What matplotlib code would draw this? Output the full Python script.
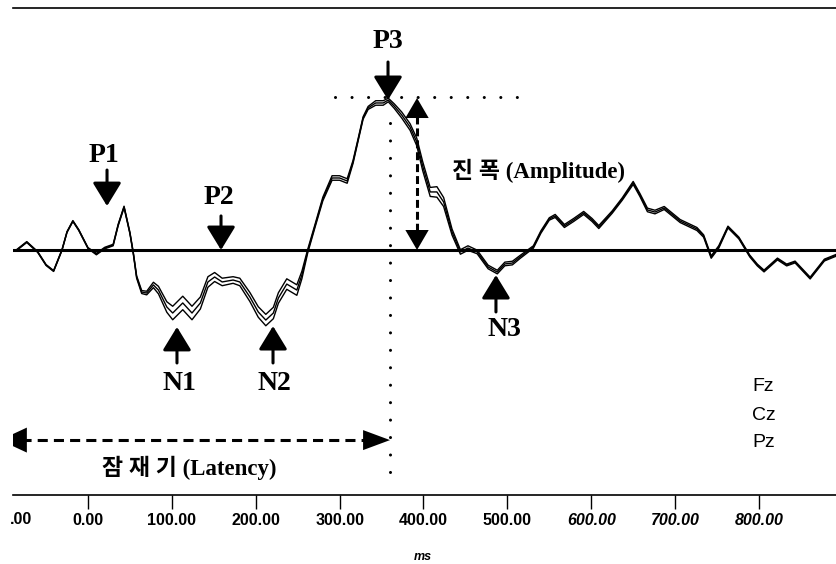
import matplotlib
matplotlib.use("Agg")
import matplotlib.pyplot as plt

# tempo (ms) e amplitude (uV) dos tres canais
tempo = [-85, -73, -60, -50, -41, -31, -25, -18, -11, 0,
         10, 20, 30, 36, 43, 50, 54, 58, 64, 70,
         78, 84, 94, 101, 113, 124, 134, 143, 151, 160,
         173, 181, 193, 203, 212, 221, 227, 237, 249, 255,
         262, 271, 280, 291, 300, 309, 316, 322, 328, 334,
         343, 352, 358, 365, 374, 384, 392, 399, 408, 416,
         424, 434, 444, 453, 464, 477, 488, 497, 506, 515,
         531, 540, 550, 557, 568, 579, 591, 601, 609, 625,
         637, 650, 658, 667, 676, 687, 706, 726, 734, 743,
         752, 763, 776, 789, 798, 806, 822, 833, 843, 861,
         878, 893]

fz = [0.03, 0.56, -0.10, -0.97, -1.37, 0.03, 1.23, 1.96, 1.36, 0.16,
      -0.22, 0.18, 0.38, 1.72, 2.92, 1.18, -0.15, -1.72, -2.70, -2.75,
      -2.15, -2.42, -3.45, -3.75, -3.08, -3.75, -3.13, -1.78, -1.50, -1.88,
      -1.78, -1.88, -2.83, -3.78, -4.29, -3.82, -2.85, -1.92, -2.32, -1.42,
      0.05, 1.77, 3.52, 4.95, 4.95, 4.75, 5.97, 7.41, 8.88, 9.57,
      9.95, 9.95, 10.12, 9.75, 9.20, 8.42, 7.45, 5.90, 4.17, 4.22,
      3.50, 1.40, 0.02, 0.28, -0.01, -1.01, -1.35, -0.81, -0.75, -0.37,
      0.28, 1.28, 2.15, 2.37, 1.70, 2.10, 2.57, 2.10, 1.63, 2.61,
      3.48, 4.57, 3.77, 2.79, 2.65, 2.90, 2.03, 1.50, 1.01, -0.39,
      0.28, 1.59, 0.86, -0.34, -0.94, -1.34, -0.54, -0.94, -0.74, -1.81,
      -0.61, -0.27]

cz = [0.00, 0.53, -0.13, -1.00, -1.40, 0.00, 1.20, 1.93, 1.33, 0.13,
      -0.27, 0.13, 0.33, 1.67, 2.87, 1.13, -0.20, -1.80, -2.80, -2.87,
      -2.33, -2.67, -3.80, -4.20, -3.53, -4.20, -3.53, -2.13, -1.80, -2.13,
      -2.00, -2.13, -3.13, -4.13, -4.67, -4.20, -3.20, -2.27, -2.67, -1.67,
      -0.07, 1.67, 3.40, 4.80, 4.80, 4.60, 5.87, 7.33, 8.80, 9.47,
      9.80, 9.80, 10.00, 9.60, 9.00, 8.20, 7.20, 5.60, 3.87, 3.87,
      3.20, 1.20, -0.13, 0.13, -0.13, -1.13, -1.47, -0.93, -0.87, -0.47,
      0.20, 1.20, 2.07, 2.27, 1.60, 2.00, 2.47, 2.00, 1.53, 2.53,
      3.40, 4.47, 3.67, 2.67, 2.53, 2.80, 1.93, 1.40, 0.93, -0.47,
      0.20, 1.53, 0.80, -0.40, -1.00, -1.40, -0.60, -1.00, -0.80, -1.87,
      -0.67, -0.33]

pz = [-0.03, 0.50, -0.16, -1.03, -1.43, -0.03, 1.17, 1.90, 1.30, 0.10,
      -0.32, 0.08, 0.28, 1.62, 2.82, 1.08, -0.25, -1.88, -2.90, -2.99,
      -2.51, -2.92, -4.15, -4.65, -3.98, -4.65, -3.93, -2.48, -2.10, -2.38,
      -2.22, -2.38, -3.43, -4.48, -5.05, -4.58, -3.55, -2.62, -3.02, -1.92,
      -0.19, 1.57, 3.28, 4.65, 4.65, 4.45, 5.77, 7.25, 8.72, 9.37,
      9.65, 9.65, 9.88, 9.45, 8.80, 7.98, 6.95, 5.30, 3.57, 3.52,
      2.90, 1.00, -0.28, -0.02, -0.25, -1.25, -1.59, -1.05, -0.99, -0.57,
      0.12, 1.12, 1.99, 2.17, 1.50, 1.90, 2.37, 1.90, 1.43, 2.45,
      3.32, 4.37, 3.57, 2.55, 2.41, 2.70, 1.83, 1.30, 0.85, -0.55,
      0.12, 1.47, 0.74, -0.46, -1.06, -1.46, -0.66, -1.06, -0.86, -1.93,
      -0.73, -0.39]

canais = ["Fz", "Cz", "Pz"]
marcas_x = [0, 100, 200, 300, 400, 500, 600, 700, 800]

SERIF = ["Liberation Serif", "Noto Sans CJK KR"]
SANS = "Liberation Sans"

fig = plt.figure(figsize=(8.37, 5.64), dpi=100)
ax = fig.add_axes([13 / 837, 1 - 495 / 564, 1 - 13 / 837, 487 / 564])
ax.set_xlim(-89.4, 893)
ax.set_ylim(-16.33, 16.13)

# linha de base
ax.axhline(0, color="black", lw=2.2, zorder=1)

# ondas
for serie in (fz, cz, pz):
    ax.plot(tempo, serie, color="black", lw=1.0, solid_joinstyle="round", zorder=2)

# eixos
for lado in ("left", "right"):
    ax.spines[lado].set_visible(False)
ax.spines["top"].set_linewidth(1.2)
ax.spines["bottom"].set_linewidth(1.2)
ax.set_yticks([])
ax.set_xticks(marcas_x)
ax.set_xticklabels([f"{m:.2f}" for m in marcas_x], fontweight="bold", family=SANS)
ax.tick_params(axis="x", direction="out", length=10, width=1.0, pad=3, labelsize=11.5)
for rotulo, m in zip(ax.get_xticklabels(), marcas_x):
    if m >= 600:
        rotulo.set_style("italic")

fig.text(32 / 837, 1 - 519 / 564, ".00", ha="right", va="center",
         fontsize=11.5, fontweight="bold", family=SANS)
fig.text(423 / 837, 1 - 557 / 564, "ms", ha="center", va="center",
         fontsize=9, fontweight="bold", style="italic", family=SANS)


def seta(x0, y0, x1, y1, comp=0.72, larg=0.44, lw=2.2, escala=20):
    est = f"-|>,head_length={comp},head_width={larg}"
    return ax.annotate("", xy=(x1, y1), xytext=(x0, y0), annotation_clip=False,
                       arrowprops=dict(arrowstyle=est, mutation_scale=escala, lw=lw,
                                       color="black", shrinkA=0, shrinkB=0))


# picos
rot = dict(fontsize=20, fontweight="bold", family=SERIF, ha="center", va="center")
seta(22.7, 5.33, 22.7, 2.93)
ax.text(19.1, 6.33, "P1", **rot)
seta(158.6, 2.27, 158.6, 0.0)
ax.text(156.2, 3.53, "P2", **rot)
seta(357.7, 12.53, 357.7, 10.0)
ax.text(357.7, 13.87, "P3", **rot)
seta(106.1, -7.53, 106.1, -5.13)
ax.text(108.5, -8.93, "N1", **rot)
seta(220.6, -7.53, 220.6, -5.07)
ax.text(221.8, -8.93, "N2", **rot)
seta(486.4, -4.13, 486.4, -1.67)
ax.text(496.0, -5.33, "N3", **rot)

# linhas pontilhadas
ax.plot([294.5, 524.6], [10.2, 10.2], color="black", lw=2.2,
        linestyle=(0, (0.01, 5.4)), dash_capstyle="round", zorder=3)
ax.plot([360.1, 360.1], [8.47, -15.0], color="black", lw=2.2,
        linestyle=(0, (0.01, 5.7)), dash_capstyle="round", zorder=3)

# amplitude
ax.plot([392.3, 392.3], [8.9, 1.3], color="black", lw=2.2,
        linestyle=(0, (2.6, 1.3)), zorder=3)
seta(392.3, 8.8, 392.3, 10.13, comp=0.72, larg=0.42, lw=0)
seta(392.3, 1.4, 392.3, 0.0, comp=0.72, larg=0.42, lw=0)
ax.text(434.0, 5.27, "진 폭 (Amplitude)", fontsize=16.5, fontweight="bold",
        family=SERIF, ha="left", va="center")

# latencia
ax.plot([-80.0, 330.0], [-12.67, -12.67], color="black", lw=2.2,
        linestyle=(0, (3.3, 2.0)), zorder=3)
seta(327.9, -12.67, 360.1, -12.67, comp=0.97, larg=0.36, lw=0)
esq = seta(-72.7, -12.67, -105.0, -12.67, comp=0.97, larg=0.45, lw=0)
esq.arrow_patch.set_clip_box(ax.bbox)
esq.arrow_patch.set_clip_on(True)
ax.text(120.4, -14.53, "잠 재 기 (Latency)", fontsize=16.5, fontweight="bold",
        family=SERIF, ha="center", va="center")

# canais
for nome, yv in zip(canais, [-9.07, -11.0, -12.8]):
    ax.text(791.7, yv, nome, fontsize=14, family=SANS, ha="left", va="center")

fig.savefig("out.png", dpi=100)
